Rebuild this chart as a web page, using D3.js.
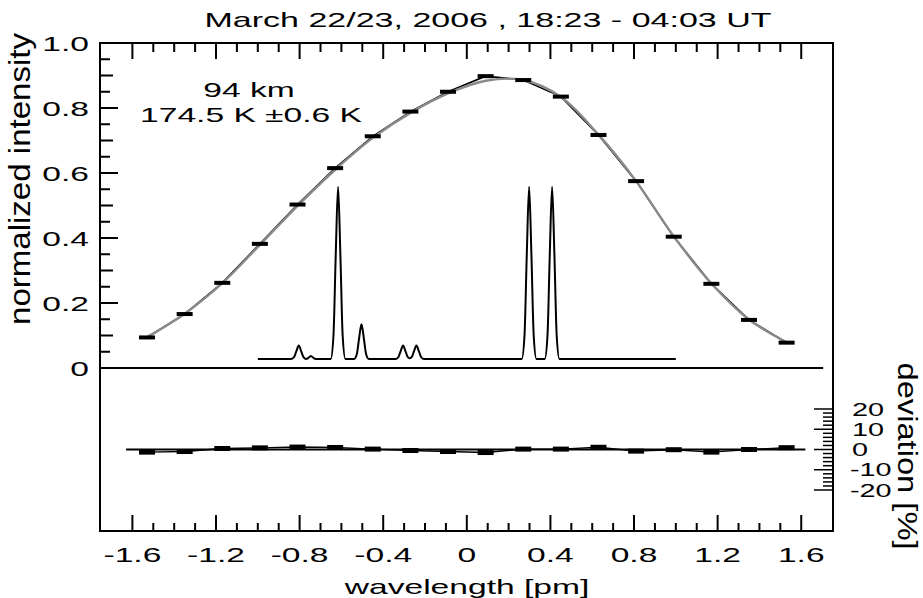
<!DOCTYPE html>
<html><head><meta charset="utf-8">
<script src="https://cdn.jsdelivr.net/npm/d3@7"></script>
<style>
html,body{margin:0;padding:0;background:#fff;}
svg text{font-family:"Liberation Sans",Arial,Helvetica,sans-serif;fill:#000;}
</style></head>
<body>
<svg id="chart" width="923" height="598"></svg>
<script>
// ---- data ----
const wavelengths = [-1.53,-1.35,-1.17,-0.99,-0.81,-0.63,-0.45,-0.27,-0.09,0.09,0.27,0.45,0.63,0.81,0.99,1.17,1.35,1.53];
const measured   = [0.094,0.166,0.262,0.382,0.503,0.615,0.713,0.789,0.850,0.898,0.886,0.835,0.717,0.575,0.404,0.259,0.148,0.078];
const fitted     = [0.095,0.167,0.261,0.379,0.499,0.610,0.708,0.785,0.845,0.884,0.886,0.834,0.718,0.575,0.405,0.260,0.149,0.079];
const deviation  = [-1.3,-1.0,0.5,0.8,1.2,1.0,0.2,-0.5,-1.0,-1.5,0.2,0.2,1.1,-0.8,-0.1,-1.3,0.0,0.9];
const specX = [-1.0,
 -0.840,-0.826,-0.815,-0.804,-0.793,-0.782,-0.770,
 -0.760,-0.746,-0.732,-0.722,
 -0.651,-0.638,-0.627,-0.616,-0.605,-0.594,-0.581,
 -0.539,-0.526,-0.515,-0.504,-0.493,-0.482,-0.469,
 -0.340,-0.327,-0.316,-0.305,-0.294,-0.283,-0.273,
 -0.263,-0.252,-0.241,-0.230,-0.219,-0.206,
 0.263,0.276,0.287,0.298,0.309,0.320,0.333,
 0.373,0.386,0.397,0.408,0.419,0.430,0.443,
 1.0];
const specY = [0.028,
 0.028,0.034,0.053,0.069,0.053,0.034,0.028,
 0.030,0.037,0.030,0.028,
 0.028,0.100,0.351,0.558,0.351,0.100,0.028,
 0.028,0.043,0.093,0.135,0.093,0.043,0.028,
 0.028,0.034,0.053,0.069,0.053,0.034,0.030,
 0.034,0.053,0.069,0.053,0.034,0.028,
 0.028,0.100,0.351,0.558,0.351,0.100,0.028,
 0.028,0.100,0.351,0.558,0.351,0.100,0.028,
 0.028];
const xTicks = [-1.6,-1.2,-0.8,-0.4,0,0.4,0.8,1.2,1.6];
const xTickLabels = ["-1.6","-1.2","-0.8","-0.4","0","0.4","0.8","1.2","1.6"];
const yTicks = [0,0.2,0.4,0.6,0.8,1.0];
const yTickLabels = ["0","0.2","0.4","0.6","0.8","1.0"];
const devTicks = [20,10,0,-10,-20];
const devTickLabels = ["20","10","0","-10","-20"];
const titleText = "March 22/23, 2006 , 18:23 - 04:03 UT";
const annot1 = "94 km";
const annot2 = "174.5 K \u00b10.6 K";

// ---- layout ----
const svg = d3.select("#chart");
const L = 100, R = 833, T = 43, B = 531;
const x = d3.scaleLinear().domain([-1.755, 1.752]).range([L, R]);
const y = d3.scaleLinear().domain([0, 1]).range([368, 43]);
const yd = d3.scaleLinear().domain([-20, 20]).range([490, 409]);
const SX = 1.6;

function stext(px, py, str, size, anchor, sx) {
  const g = svg.append("g").attr("transform", `translate(${px},${py}) scale(${sx||SX},1)`);
  g.append("text").attr("text-anchor", anchor).attr("font-size", size).text(str);
}

// frame
svg.append("rect").attr("x", L).attr("y", T).attr("width", R - L).attr("height", B - T)
  .attr("fill", "none").attr("stroke", "#000").attr("stroke-width", 2);

// x ticks (top and bottom, inward)
const minorX = d3.range(-16, 17).map(d => d / 10);
minorX.forEach(v => {
  const major = Math.abs(Math.round(v * 10) % 4) === 0;
  svg.append("line").attr("x1", x(v)).attr("x2", x(v)).attr("y1", B).attr("y2", B - (major ? 16 : 8))
    .attr("stroke", "#000").attr("stroke-width", 2);
  svg.append("line").attr("x1", x(v)).attr("x2", x(v)).attr("y1", T).attr("y2", T + (major ? 16 : 9))
    .attr("stroke", "#000").attr("stroke-width", 2);
});
xTicks.forEach((v, i) => stext(x(v), 562, xTickLabels[i], 21, "middle"));

// y ticks (left, upper panel)
d3.range(0, 21).forEach(k => {
  const v = k * 0.05;
  const len = k % 4 === 0 ? 18 : (k % 2 === 0 ? 13 : 10);
  svg.append("line").attr("x1", L).attr("x2", L + len).attr("y1", y(v)).attr("y2", y(v))
    .attr("stroke", "#000").attr("stroke-width", 2);
});
yTicks.forEach((v, i) => stext(89, y(v) + 7.5, yTickLabels[i], 21, "end"));

// deviation ticks (right, lower panel)
d3.range(-20, 21, 2).forEach(v => {
  const len = v % 10 === 0 ? 19 : 10;
  svg.append("line").attr("x1", R).attr("x2", R - len).attr("y1", yd(v)).attr("y2", yd(v))
    .attr("stroke", "#000").attr("stroke-width", 1.5);
});
devTicks.forEach((v, i) => stext(v < 0 ? 850 : 852, yd(v) + 6.5, devTickLabels[i], 18, "start", 1.6));

// zero lines
svg.append("line").attr("x1", L).attr("x2", x(1.705)).attr("y1", y(0)).attr("y2", y(0))
  .attr("stroke", "#000").attr("stroke-width", 2);
svg.append("line").attr("x1", x(-1.63)).attr("x2", x(1.62)).attr("y1", yd(0)).attr("y2", yd(0))
  .attr("stroke", "#000").attr("stroke-width", 1.8);

// spectrum
const spec = specX.map((v, i) => [v, specY[i]]);
svg.append("path").datum(spec)
  .attr("d", d3.line().x(d => x(d[0])).y(d => y(d[1])).curve(d3.curveMonotoneX))
  .attr("fill", "none").attr("stroke", "#000").attr("stroke-width", 2);

// measured line (black) and fit (gray)
const meas = wavelengths.map((v, i) => [v, measured[i]]);
const fit = wavelengths.map((v, i) => [v, fitted[i]]);
svg.append("path").datum(meas)
  .attr("d", d3.line().x(d => x(d[0])).y(d => y(d[1])))
  .attr("fill", "none").attr("stroke", "#000").attr("stroke-width", 1.6);
svg.append("path").datum(fit)
  .attr("d", d3.line().x(d => x(d[0])).y(d => y(d[1])).curve(d3.curveCatmullRom))
  .attr("fill", "none").attr("stroke", "#8a8a8a").attr("stroke-width", 2.4);
svg.selectAll(".pt").data(meas).enter().append("rect")
  .attr("x", d => x(d[0]) - 8).attr("y", d => y(d[1]) - 2).attr("width", 16).attr("height", 4)
  .attr("fill", "#000");

// deviation
const dev = wavelengths.map((v, i) => [v, deviation[i]]);
svg.append("path").datum(dev)
  .attr("d", d3.line().x(d => x(d[0])).y(d => yd(d[1])))
  .attr("fill", "none").attr("stroke", "#000").attr("stroke-width", 1.4);
svg.selectAll(".dv").data(dev).enter().append("rect")
  .attr("x", d => x(d[0]) - 8).attr("y", d => yd(d[1]) - 2.5).attr("width", 16).attr("height", 5)
  .attr("fill", "#000");

// texts
stext(488, 27, titleText, 21, "middle", 1.62);
stext(249, 97, annot1, 21, "middle");
stext(251, 122, annot2, 21, "middle");
stext(467, 594, "wavelength [pm]", 21, "middle");

svg.append("text").attr("transform", "translate(30,179) rotate(-90)")
  .attr("text-anchor", "middle").attr("font-size", 30)
  .attr("textLength", 292).attr("lengthAdjust", "spacingAndGlyphs")
  .text("normalized intensity");
svg.append("text").attr("transform", "translate(898,456) rotate(90)")
  .attr("text-anchor", "middle").attr("font-size", 27)
  .attr("textLength", 187).attr("lengthAdjust", "spacingAndGlyphs")
  .text("deviation [%]");
</script>
</body></html>
